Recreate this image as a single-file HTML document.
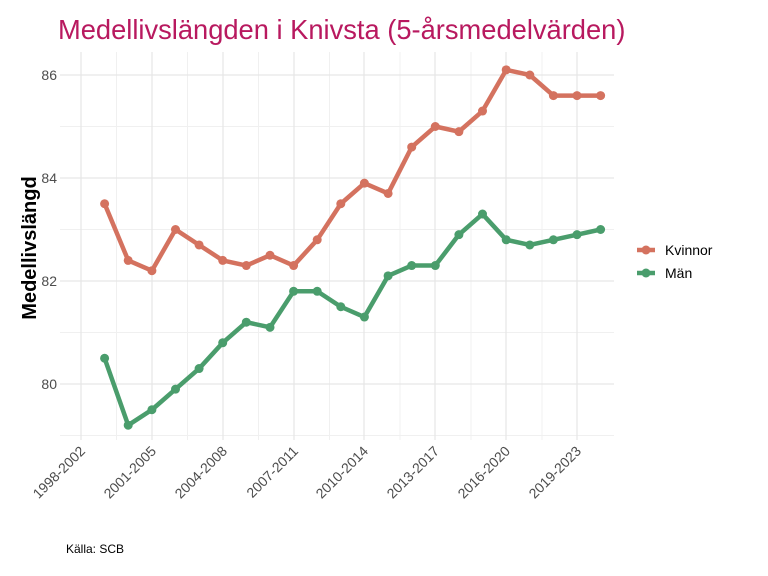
<!DOCTYPE html>
<html><head><meta charset="utf-8"><style>
html,body{margin:0;padding:0;background:#fff;}
svg{display:block;font-family:"Liberation Sans",sans-serif;}
</style></head><body>
<svg width="768" height="576" viewBox="0 0 768 576">
<rect width="768" height="576" fill="#fff"/>
<text x="58" y="39" font-size="27.3" fill="#B8195F">Medellivslängden i Knivsta (5-årsmedelvärden)</text>
<g stroke="#f0f0f0" stroke-width="1">
<line x1="60" x2="614" y1="126.5" y2="126.5"/><line x1="60" x2="614" y1="229.5" y2="229.5"/><line x1="60" x2="614" y1="332.5" y2="332.5"/><line x1="60" x2="614" y1="435.5" y2="435.5"/>
<line x1="116.5" x2="116.5" y1="52" y2="440"/><line x1="187.5" x2="187.5" y1="52" y2="440"/><line x1="258.5" x2="258.5" y1="52" y2="440"/><line x1="329.5" x2="329.5" y1="52" y2="440"/><line x1="400" x2="400" y1="52" y2="440"/><line x1="471" x2="471" y1="52" y2="440"/><line x1="542" x2="542" y1="52" y2="440"/>
</g>
<g stroke="#e6e6e6" stroke-width="1.2">
<line x1="60" x2="614" y1="75" y2="75"/><line x1="60" x2="614" y1="178" y2="178"/><line x1="60" x2="614" y1="281" y2="281"/><line x1="60" x2="614" y1="384" y2="384"/>
<line x1="81" x2="81" y1="52" y2="440"/><line x1="152" x2="152" y1="52" y2="440"/><line x1="223" x2="223" y1="52" y2="440"/><line x1="294" x2="294" y1="52" y2="440"/><line x1="364" x2="364" y1="52" y2="440"/><line x1="435" x2="435" y1="52" y2="440"/><line x1="506" x2="506" y1="52" y2="440"/><line x1="577" x2="577" y1="52" y2="440"/>
</g>
<g font-size="14" fill="#4d4d4d" text-anchor="end">
<text x="57" y="80">86</text><text x="57" y="183">84</text><text x="57" y="286">82</text><text x="57" y="389">80</text>
</g>
<g font-size="14" fill="#4d4d4d" text-anchor="end">
<text transform="translate(86,452) rotate(-45)">1998-2002</text>
<text transform="translate(157,452) rotate(-45)">2001-2005</text>
<text transform="translate(228,452) rotate(-45)">2004-2008</text>
<text transform="translate(299,452) rotate(-45)">2007-2011</text>
<text transform="translate(369,452) rotate(-45)">2010-2014</text>
<text transform="translate(440,452) rotate(-45)">2013-2017</text>
<text transform="translate(511,452) rotate(-45)">2016-2020</text>
<text transform="translate(582,452) rotate(-45)">2019-2023</text>
</g>
<text transform="translate(36,248) rotate(-90)" font-size="20" font-weight="bold" text-anchor="middle" fill="#000">Medellivslängd</text>
<polyline fill="none" stroke="#D4725F" stroke-width="4.5" stroke-linejoin="round" points="104.6,203.75 128.2,260.4 151.9,270.7 175.5,229.5 199.1,244.95 222.7,260.4 246.3,265.55 270,255.25 293.6,265.55 317.2,239.8 340.8,203.75 364.4,183.15 388.1,193.45 411.7,147.1 435.3,126.5 458.9,131.65 482.5,111.05 506.2,69.85 529.8,75 553.4,95.6 577,95.6 600.6,95.6"/>
<g fill="#D4725F">
<circle cx="104.6" cy="203.75" r="4.5"/><circle cx="128.2" cy="260.4" r="4.5"/><circle cx="151.9" cy="270.7" r="4.5"/><circle cx="175.5" cy="229.5" r="4.5"/><circle cx="199.1" cy="244.95" r="4.5"/><circle cx="222.7" cy="260.4" r="4.5"/><circle cx="246.3" cy="265.55" r="4.5"/><circle cx="270" cy="255.25" r="4.5"/><circle cx="293.6" cy="265.55" r="4.5"/><circle cx="317.2" cy="239.8" r="4.5"/><circle cx="340.8" cy="203.75" r="4.5"/><circle cx="364.4" cy="183.15" r="4.5"/><circle cx="388.1" cy="193.45" r="4.5"/><circle cx="411.7" cy="147.1" r="4.5"/><circle cx="435.3" cy="126.5" r="4.5"/><circle cx="458.9" cy="131.65" r="4.5"/><circle cx="482.5" cy="111.05" r="4.5"/><circle cx="506.2" cy="69.85" r="4.5"/><circle cx="529.8" cy="75" r="4.5"/><circle cx="553.4" cy="95.6" r="4.5"/><circle cx="577" cy="95.6" r="4.5"/><circle cx="600.6" cy="95.6" r="4.5"/>
</g>
<polyline fill="none" stroke="#4A9D6C" stroke-width="4.5" stroke-linejoin="round" points="104.6,358.25 128.2,425.2 151.9,409.75 175.5,389.15 199.1,368.55 222.7,342.8 246.3,322.2 270,327.35 293.6,291.3 317.2,291.3 340.8,306.75 364.4,317.05 388.1,275.85 411.7,265.55 435.3,265.55 458.9,234.65 482.5,214.05 506.2,239.8 529.8,244.95 553.4,239.8 577,234.65 600.6,229.5"/>
<g fill="#4A9D6C">
<circle cx="104.6" cy="358.25" r="4.5"/><circle cx="128.2" cy="425.2" r="4.5"/><circle cx="151.9" cy="409.75" r="4.5"/><circle cx="175.5" cy="389.15" r="4.5"/><circle cx="199.1" cy="368.55" r="4.5"/><circle cx="222.7" cy="342.8" r="4.5"/><circle cx="246.3" cy="322.2" r="4.5"/><circle cx="270" cy="327.35" r="4.5"/><circle cx="293.6" cy="291.3" r="4.5"/><circle cx="317.2" cy="291.3" r="4.5"/><circle cx="340.8" cy="306.75" r="4.5"/><circle cx="364.4" cy="317.05" r="4.5"/><circle cx="388.1" cy="275.85" r="4.5"/><circle cx="411.7" cy="265.55" r="4.5"/><circle cx="435.3" cy="265.55" r="4.5"/><circle cx="458.9" cy="234.65" r="4.5"/><circle cx="482.5" cy="214.05" r="4.5"/><circle cx="506.2" cy="239.8" r="4.5"/><circle cx="529.8" cy="244.95" r="4.5"/><circle cx="553.4" cy="239.8" r="4.5"/><circle cx="577" cy="234.65" r="4.5"/><circle cx="600.6" cy="229.5" r="4.5"/>
</g>
<line x1="637" x2="655" y1="250" y2="250" stroke="#D4725F" stroke-width="4.5"/><circle cx="646" cy="250" r="4.5" fill="#D4725F"/>
<line x1="637" x2="655" y1="273" y2="273" stroke="#4A9D6C" stroke-width="4.5"/><circle cx="646" cy="273" r="4.5" fill="#4A9D6C"/>
<text x="665" y="255" font-size="14" fill="#000">Kvinnor</text>
<text x="665" y="278" font-size="14" fill="#000">Män</text>
<text x="66" y="553" font-size="12" fill="#000">Källa: SCB</text>
</svg>
</body></html>
